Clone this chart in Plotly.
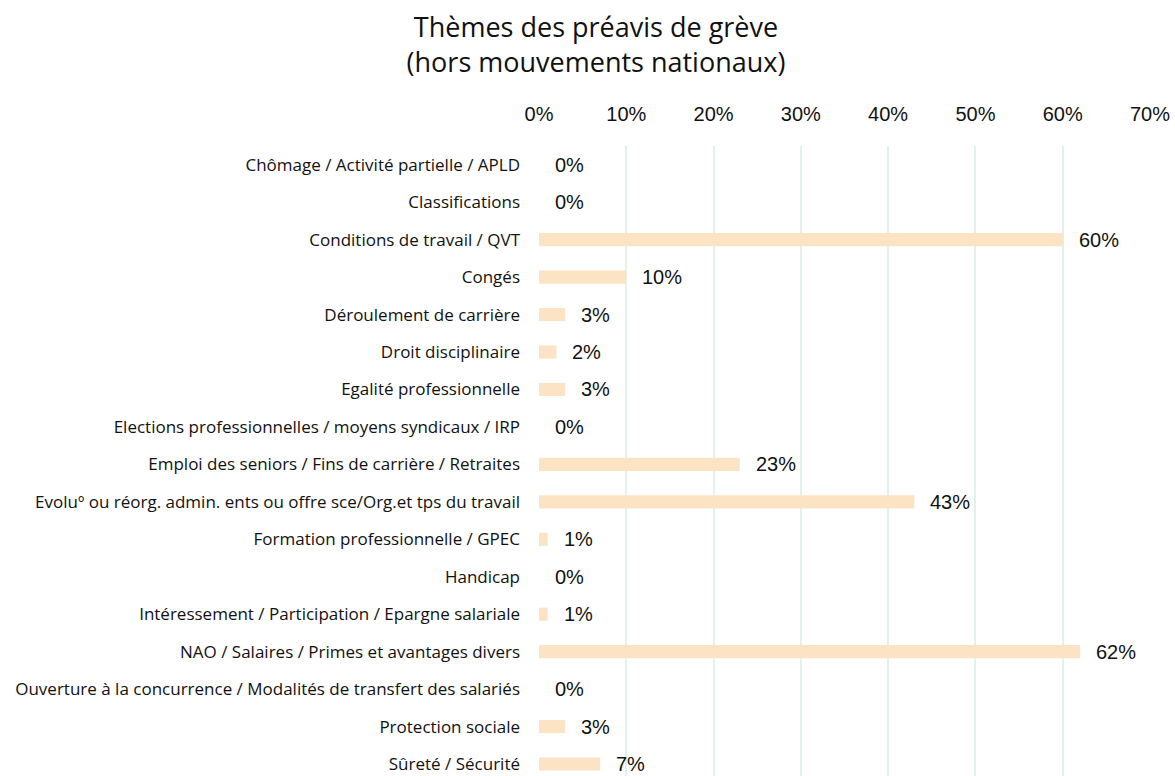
import plotly.graph_objects as go

# Strike-notice themes and their share (%)
categories = [
    "Chômage / Activité partielle / APLD",
    "Classifications",
    "Conditions de travail / QVT",
    "Congés",
    "Déroulement de carrière",
    "Droit disciplinaire",
    "Egalité professionnelle",
    "Elections professionnelles / moyens syndicaux / IRP",
    "Emploi des seniors / Fins de carrière / Retraites",
    "Evoluº ou réorg. admin. ents ou offre sce/Org.et tps du travail",
    "Formation professionnelle / GPEC",
    "Handicap",
    "Intéressement / Participation / Epargne salariale",
    "NAO / Salaires / Primes et avantages divers",
    "Ouverture à la concurrence / Modalités de transfert des salariés",
    "Protection sociale",
    "Sûreté / Sécurité",
]
shares = [0, 0, 60, 10, 3, 2, 3, 0, 23, 43, 1, 0, 1, 62, 0, 3, 7]
x_ticks = [0, 10, 20, 30, 40, 50, 60, 70]

W, H = 1175, 776
LABEL_FONT = "Open Sans"
NUM_FONT = "Liberation Sans"

fig = go.Figure(
    go.Bar(
        x=shares,
        y=categories,
        orientation="h",
        marker=dict(color="#FBE3C4", line=dict(width=0)),
        hoverinfo="skip",
    )
)

# value labels to the right of each bar end
for cat, v in zip(categories, shares):
    fig.add_annotation(
        x=v, y=cat, xref="x", yref="y",
        text=f"{v}%", showarrow=False,
        xanchor="left", yanchor="middle", xshift=14,
        font=dict(family=NUM_FONT, size=20, color="#111111"),
    )

fig.update_layout(
    width=W, height=H,
    margin=dict(l=539, r=25, t=146, b=0),
    paper_bgcolor="white",
    plot_bgcolor="white",
    bargap=0.65,
    showlegend=False,
    title=dict(
        text="Thèmes des préavis de grève<br>(hors mouvements nationaux)",
        x=596 / W, xanchor="center",
        y=1 - 37 / H, yanchor="middle", yref="container",
        font=dict(family=LABEL_FONT, size=27, color="#111111"),
    ),
    xaxis=dict(
        side="top",
        range=[0, 70],
        tickvals=x_ticks,
        ticktext=[f"{t}%" for t in x_ticks],
        showgrid=True,
        gridcolor="#E3F1EC",
        gridwidth=2,
        zeroline=False,
        showline=False,
        ticks="",
        ticklabelstandoff=20,
        tickfont=dict(family=NUM_FONT, size=20, color="#111111"),
        fixedrange=True,
    ),
    yaxis=dict(
        type="category",
        categoryorder="array",
        categoryarray=categories,
        range=[16.32, -0.5],
        showgrid=False,
        zeroline=False,
        showline=False,
        ticks="",
        ticklabelstandoff=18,
        tickfont=dict(family=LABEL_FONT, size=17, color="#111111"),
        fixedrange=True,
    ),
)

fig.write_html("out.html")
